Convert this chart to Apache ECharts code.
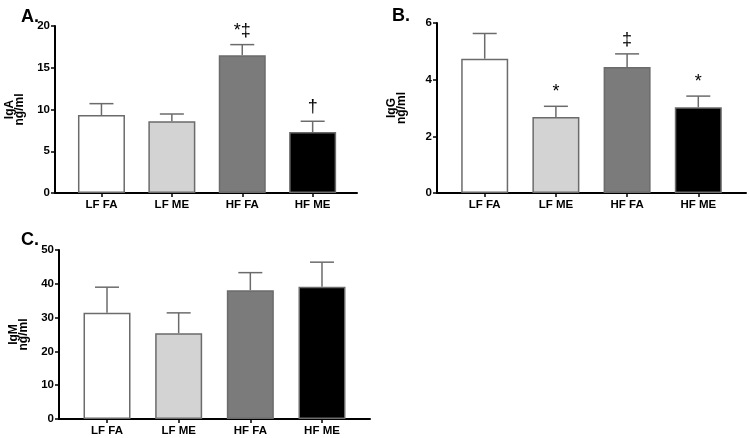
<!DOCTYPE html>
<html>
<head>
<meta charset="utf-8">
<script src="https://cdn.jsdelivr.net/npm/echarts@6/dist/echarts.min.js"></script>
<style>
  html, body { margin: 0; padding: 0; background: #fff; }
  #chart { width: 750px; height: 438px; }
</style>
</head>
<body>
<div id="chart"></div>
<script>
var categories = ['LF FA', 'LF ME', 'HF FA', 'HF ME'];
var barColors = ['#ffffff', '#d3d3d3', '#7b7b7b', '#000000'];

var igaMean = [9.34, 8.59, 16.5, 7.3];
var igaSem = [1.36, 0.87, 1.27, 1.29];
var igaMarks = ['', '', '*‡', '†'];

var iggMean = [4.74, 2.68, 4.45, 3.03];
var iggSem = [0.89, 0.38, 0.46, 0.39];
var iggMarks = ['', '*', '‡', '*'];

var igmMean = [31.4, 25.4, 38.1, 39.1];
var igmSem = [7.6, 6.0, 5.2, 7.3];
var igmMarks = ['', '', '', ''];

var FONT = '"Liberation Sans", Arial, sans-serif';
var myChart = echarts.init(document.getElementById('chart'));

function xAxisFor(idx, min, max) {
  return {
    type: 'value', gridIndex: idx, min: min, max: max,
    splitLine: {show: false},
    axisLine: {onZero: false, lineStyle: {color: '#000', width: 2}},
    axisTick: {customValues: [0, 1, 2, 3], length: 4, lineStyle: {color: '#000', width: 1.5}},
    axisLabel: {
      customValues: [0, 1, 2, 3], margin: 6,
      color: '#000', fontWeight: 'bold', fontSize: 11.5, fontFamily: FONT,
      formatter: function (v) { return categories[Math.round(v)]; }
    }
  };
}

function yAxisFor(idx, max, interval, name) {
  return {
    type: 'value', gridIndex: idx, min: 0, max: max, interval: interval,
    name: name, nameLocation: 'middle', nameGap: 30,
    nameTextStyle: {color: '#000', fontWeight: 'bold', fontSize: 12, fontFamily: FONT, lineHeight: 10},
    splitLine: {show: false},
    axisLine: {show: true, onZero: false, lineStyle: {color: '#000', width: 2}},
    axisTick: {show: true, length: 4, lineStyle: {color: '#000', width: 1.5}},
    axisLabel: {color: '#000', fontWeight: 'bold', fontSize: 11.5, fontFamily: FONT, margin: 5}
  };
}

function barSeries(idx, means) {
  return {
    type: 'bar', xAxisIndex: idx, yAxisIndex: idx, barWidth: 47,
    data: means.map(function (m, i) {
      return {value: [i, m], itemStyle: {color: barColors[i]}};
    }),
    itemStyle: {borderColor: '#6b6b6b', borderWidth: 1.5},
    silent: true
  };
}

function errSeries(idx, means, sems, marks) {
  return {
    type: 'custom', xAxisIndex: idx, yAxisIndex: idx, z: 3, silent: true,
    data: means.map(function (m, i) { return [i, m, m + sems[i]]; }),
    renderItem: function (params, api) {
      var base = api.coord([api.value(0), api.value(1)]);
      var top = api.coord([api.value(0), api.value(2)]);
      var st = {stroke: '#6b6b6b', lineWidth: 1.5};
      return {
        type: 'group',
        children: [
          {type: 'line', shape: {x1: base[0], y1: base[1], x2: top[0], y2: top[1]}, style: st},
          {type: 'line', shape: {x1: top[0] - 12, y1: top[1], x2: top[0] + 12, y2: top[1]}, style: st},
          {type: 'text', x: top[0], y: top[1] - 5, style: {
            text: marks[params.dataIndex], align: 'center', verticalAlign: 'bottom',
            fill: '#000', font: '18px ' + FONT
          }}
        ]
      };
    }
  };
}

var panelTitle = {color: '#000', fontWeight: 'bold', fontSize: 18, fontFamily: FONT};

myChart.setOption({
  animation: false,
  backgroundColor: '#fff',
  title: [
    {text: 'A.', left: 16, top: 3, textStyle: panelTitle},
    {text: 'B.', left: 387, top: 2, textStyle: panelTitle},
    {text: 'C.', left: 16, top: 226, textStyle: panelTitle}
  ],
  grid: [
    {left: 55, top: 26, width: 302, height: 167},
    {left: 437, top: 23, width: 309, height: 170},
    {left: 59, top: 250, width: 311, height: 169}
  ],
  xAxis: [
    xAxisFor(0, -0.66, 3.63),
    xAxisFor(1, -0.67, 3.67),
    xAxisFor(2, -0.67, 3.67)
  ],
  yAxis: [
    yAxisFor(0, 20, 5, 'IgA\nng/ml'),
    yAxisFor(1, 6, 2, 'IgG\nng/ml'),
    yAxisFor(2, 50, 10, 'IgM\nng/ml')
  ],
  series: [
    barSeries(0, igaMean), errSeries(0, igaMean, igaSem, igaMarks),
    barSeries(1, iggMean), errSeries(1, iggMean, iggSem, iggMarks),
    barSeries(2, igmMean), errSeries(2, igmMean, igmSem, igmMarks)
  ]
});
</script>
</body>
</html>
